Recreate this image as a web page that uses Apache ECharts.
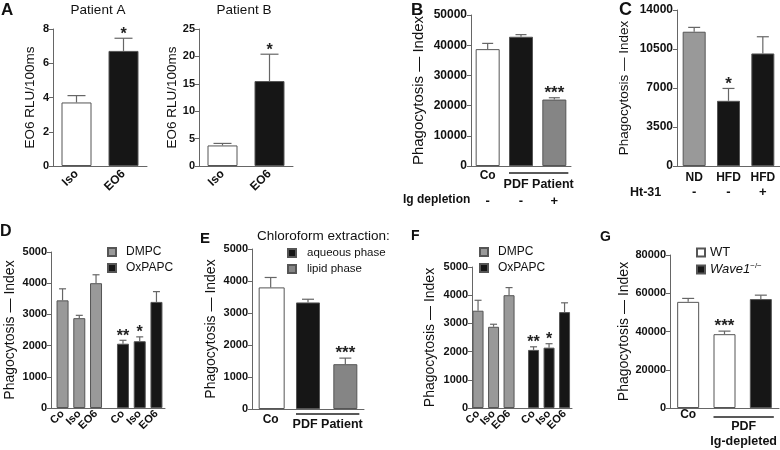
<!DOCTYPE html>
<html><head><meta charset="utf-8">
<script src="https://cdn.jsdelivr.net/npm/echarts@6/dist/echarts.min.js"></script>
<style>html,body{margin:0;padding:0;background:#fff}#c{width:780px;height:450px}</style>
</head><body><div id="c"></div>
<script>
// ================= DATA =================
// Panel A
const aCats = ['Iso', 'EO6'];
const aPatientAVals = [3.71, 6.72];
const aPatientAErr = [0.40, 0.74];
const aPatientASig = ['', '*'];
const aPatientATicks = [0, 2, 4, 6, 8];
const aPatientBVals = [3.75, 15.5];
const aPatientBErr = [0.37, 4.9];
const aPatientBSig = ['', '*'];
const aPatientBTicks = [0, 5, 10, 15, 20, 25];
// Panel B
const bCats = ['Co', '', ''];
const bIgDepletion = ['-', '-', '+'];
const bVals = [38700, 42800, 22000];
const bErr = [1900, 700, 600];
const bSig = ['', '', '***'];
const bTicks = [0, 10000, 20000, 30000, 40000, 50000];
// Panel C
const cCats = ['ND', 'HFD', 'HFD'];
const cHt31 = ['-', '-', '+'];
const cVals = [12050, 5850, 10100];
const cErr = [390, 1110, 1500];
const cSig = ['', '*', ''];
const cTicks = [0, 3500, 7000, 10500, 14000];
// Panels D and F (same data)
const dfCats = ['Co', 'Iso', 'EO6'];
const dfDMPC = [3450, 2880, 4000];
const dfDMPCErr = [370, 90, 270];
const dfOxPAPC = [2060, 2140, 3400];
const dfOxPAPCErr = [110, 140, 330];
const dfOxSig = ['**', '*', ''];
const dfTicks = [0, 1000, 2000, 3000, 4000, 5000];
// Panel E
const eCats = ['Co', '', ''];
const eCo = [3800, null, null];
const eAqueous = [null, 3330, null];
const eLipid = [null, null, 1400];
const eErr = [310, 100, 190];
const eSig = ['', '', '***'];
const eTicks = [0, 1000, 2000, 3000, 4000, 5000];
// Panel G
const gCats = ['Co', '', ''];
const gWT = [55500, 38600, null];
const gKO = [null, null, 56950];
const gErr = [1800, 1600, 2050];
const gSig = ['', '***', ''];
const gTicks = [0, 20000, 40000, 60000, 80000];

// ================= STYLE =================
const FONT = '"Liberation Sans", Arial, Helvetica, sans-serif';
const AX = '#666';
const WHITE = '#ffffff', BLACK = '#161616', GRAY = '#999999', DGRAY = '#858585';
const BORDER = '#555';

const grids = [], xAxes = [], yAxes = [], series = [];

function addGrid(g) { grids.push(g); return grids.length - 1; }
function addY(gi, ticks, name, nameGap, fs, nameFs) {
  yAxes.push({
    type: 'value', gridIndex: gi, min: ticks[0], max: ticks[ticks.length - 1], interval: ticks[1] - ticks[0],
    name: name, nameLocation: 'middle', nameGap: nameGap,
    nameTextStyle: { fontFamily: FONT, fontSize: nameFs, color: '#111' },
    axisLine: { show: true, onZero: false, lineStyle: { color: AX, width: 1 } },
    axisTick: { show: true, length: 4, lineStyle: { color: AX } },
    axisLabel: { formatter: v => String(v), fontFamily: FONT, fontWeight: 'bold', fontSize: fs, color: '#111', margin: 4 },
    splitLine: { show: false }
  });
  return yAxes.length - 1;
}
function addCatX(gi, labels, opts) {
  opts = opts || {};
  xAxes.push({
    type: 'category', gridIndex: gi, position: 'bottom', data: labels.map((_, i) => String(i)),
    offset: opts.offset || 0,
    axisLine: { show: opts.line !== false, onZero: false, lineStyle: { color: AX, width: 1 } },
    axisTick: { show: false },
    axisLabel: { interval: 0, formatter: (v, i) => labels[i], fontFamily: FONT, fontWeight: 'bold',
      fontSize: opts.fs || 12, color: '#111', margin: opts.margin == null ? 4 : opts.margin, rotate: opts.rotate || 0 },
    splitLine: { show: false }
  });
  return xAxes.length - 1;
}
function addValX(gi, min, max, positions, labels, rotate, fs, margin) {
  xAxes.push({
    type: 'value', gridIndex: gi, position: 'bottom', min: min, max: max,
    axisLine: { show: true, onZero: false, lineStyle: { color: AX, width: 1 } },
    axisTick: { show: false },
    axisLabel: { customValues: positions, formatter: (v) => {
        const k = positions.findIndex(p => Math.abs(p - v) < 1e-6); return k >= 0 ? labels[k] : ''; },
      fontFamily: FONT, fontWeight: 'bold', fontSize: fs, color: '#111', margin: margin, rotate: rotate },
    splitLine: { show: false }
  });
  return xAxes.length - 1;
}
function bar(xi, yi, name, data, color, width, colorFn) {
  series.push({
    type: 'bar', name: name, xAxisIndex: xi, yAxisIndex: yi, data: data, barWidth: width, barGap: '-100%',
    itemStyle: { color: colorFn || color, borderColor: BORDER, borderWidth: 1 },
    emphasis: { disabled: true }, animation: false
  });
}
function errBars(xi, yi, xs, vals, errs, sigs, capW, starFs) {
  const data = [];
  vals.forEach((v, i) => { if (v != null) data.push([xs[i], v, errs[i], i]); });
  series.push({
    type: 'custom', xAxisIndex: xi, yAxisIndex: yi, z: 5, silent: true, animation: false,
    encode: { x: 0, y: 1 },
    data: data,
    renderItem: (params, api) => {
      const x = api.value(0), v = api.value(1), e = api.value(2), k = api.value(3);
      const p0 = api.coord([x, v]), p1 = api.coord([x, v + e]);
      const st = { stroke: '#666', lineWidth: 1.2 };
      const ch = [
        { type: 'line', shape: { x1: p0[0], y1: p0[1], x2: p1[0], y2: p1[1] }, style: st },
        { type: 'line', shape: { x1: p1[0] - capW / 2, y1: p1[1], x2: p1[0] + capW / 2, y2: p1[1] }, style: st }
      ];
      const s = sigs[k];
      if (s) ch.push({ type: 'text', x: p1[0], y: p1[1] + 4, style: { text: s, fill: '#222',
        font: 'bold ' + starFs + 'px ' + FONT, align: 'center', verticalAlign: 'bottom' } });
      return { type: 'group', children: ch };
    }
  });
}

// ---------- Panel A ----------
const gA1 = addGrid({ left: 53, top: 29, width: 94, height: 137 });
const xA1 = addCatX(gA1, aCats, { rotate: 45, fs: 12, margin: 6 });
const yA1 = addY(gA1, aPatientATicks, 'EO6 RLU/100ms', 16, 11, 13.5);
bar(xA1, yA1, 'A1', aPatientAVals, null, 30, p => [WHITE, BLACK][p.dataIndex]);
errBars(xA1, yA1, [0, 1], aPatientAVals, aPatientAErr, aPatientASig, 18, 16);

const gA2 = addGrid({ left: 199, top: 29, width: 94, height: 137 });
const xA2 = addCatX(gA2, aCats, { rotate: 45, fs: 12, margin: 6 });
const yA2 = addY(gA2, aPatientBTicks, 'EO6 RLU/100ms', 16, 11, 13.5);
bar(xA2, yA2, 'A2', aPatientBVals, null, 30, p => [WHITE, BLACK][p.dataIndex]);
errBars(xA2, yA2, [0, 1], aPatientBVals, aPatientBErr, aPatientBSig, 18, 16);

// ---------- Panel B ----------
const gB = addGrid({ left: 471, top: 15, width: 100, height: 151 });
const xB = addCatX(gB, bCats, { fs: 12, margin: 4 });
const xB2 = addCatX(gB, bIgDepletion, { fs: 13, margin: 4, offset: 25, line: false });
const yB = addY(gB, bTicks, 'Phagocytosis \u2014 Index', 45, 12, 15);
bar(xB, yB, 'B', bVals, null, 24, p => [WHITE, BLACK, DGRAY][p.dataIndex]);
errBars(xB, yB, [0, 1, 2], bVals, bErr, bSig, 11, 17);

// ---------- Panel C ----------
const gC = addGrid({ left: 677, top: 10, width: 103, height: 156 });
const xC = addCatX(gC, cCats, { fs: 12, margin: 6 });
const xC2 = addCatX(gC, cHt31, { fs: 13, margin: 6, offset: 14, line: false });
const yC = addY(gC, cTicks, 'Phagocytosis \u2014 Index', 46, 12, 13.5);
bar(xC, yC, 'C', cVals, null, 23, p => [GRAY, BLACK, BLACK][p.dataIndex]);
errBars(xC, yC, [0, 1, 2], cVals, cErr, cSig, 12, 17);

// ---------- Panels D & F ----------
function lipidPanel(grid, xmin, xmax, groupOffset, barW, capW, nameGap) {
  const gi = addGrid(grid);
  const posD = dfCats.map((_, i) => i);
  const posO = dfCats.map((_, i) => i + groupOffset);
  const xi = addValX(gi, xmin, xmax, posD.concat(posO), dfCats.concat(dfCats), 45, 11, 4);
  const yi = addY(gi, dfTicks, 'Phagocytosis \u2014 Index', nameGap, 11, 14);
  bar(xi, yi, 'DMPC', dfDMPC.map((v, i) => [posD[i], v]), GRAY, barW);
  bar(xi, yi, 'OxPAPC', dfOxPAPC.map((v, i) => [posO[i], v]), BLACK, barW);
  errBars(xi, yi, posD, dfDMPC, dfDMPCErr, ['', '', ''], capW, 16);
  errBars(xi, yi, posO, dfOxPAPC, dfOxPAPCErr, dfOxSig, capW, 16);
}
lipidPanel({ left: 51, top: 252, width: 114, height: 156 }, -0.69, 6.12, 3.61, 12, 7, 34);
lipidPanel({ left: 472, top: 267, width: 100, height: 141 }, -0.39, 6.06, 3.58, 11, 7, 35);

// ---------- Panel E ----------
const gE = addGrid({ left: 252, top: 249, width: 112, height: 160 });
const xE = addCatX(gE, eCats, { fs: 12, margin: 5 });
const yE = addY(gE, eTicks, 'Phagocytosis \u2014 Index', 34, 11, 14);
bar(xE, yE, 'Co', eCo, WHITE, 26);
bar(xE, yE, 'aqueous phase', eAqueous, BLACK, 24);
bar(xE, yE, 'lipid phase', eLipid, DGRAY, 24);
const eAll = eCo.map((v, i) => v != null ? v : (eAqueous[i] != null ? eAqueous[i] : eLipid[i]));
errBars(xE, yE, [0, 1, 2], eAll, eErr, eSig, 12, 17);

// ---------- Panel G ----------
const gG = addGrid({ left: 670, top: 255, width: 109, height: 153 });
const xG = addCatX(gG, gCats, { fs: 12, margin: 1 });
const yG = addY(gG, gTicks, 'Phagocytosis \u2014 Index', 37, 11, 14);
bar(xG, yG, 'WT', gWT, WHITE, 22);
bar(xG, yG, 'Wave1\u2212/\u2212', gKO, BLACK, 22);
const gAll = gWT.map((v, i) => v != null ? v : gKO[i]);
errBars(xG, yG, [0, 1, 2], gAll, gErr, gSig, 12, 17);

// ================= TEXT =================
function ttl(text, left, top, fs, weight, align) {
  return { text: text, left: left, top: top, padding: 0, textAlign: align || 'left',
    textStyle: { fontFamily: FONT, fontSize: fs, fontWeight: weight || 'normal', color: '#111' } };
}
const titles = [
  ttl('A', 1, 2, 17, 900), ttl('B', 411, 2, 17, 900), ttl('C', 619, 1, 18, 900),
  ttl('D', 0, 224, 16, 900), ttl('E', 200, 231, 15, 900), ttl('F', 411, 229, 14, 900), ttl('G', 600, 230, 14, 900),
  ttl('Patient A', 98, 3, 13.5, 'normal', 'center'),
  ttl('Patient B', 244, 3, 13.5, 'normal', 'center'),
  ttl('Chloroform extraction:', 257, 229, 13.5),
  ttl('Ig depletion', 403, 194, 12, 'bold'),
  ttl('Ht-31', 630, 186, 12.5, 'bold')
];

function legendAt(left, top, names, extra) {
  return Object.assign({ left: left, top: top, orient: 'vertical', data: names, icon: 'rect',
    itemWidth: 8, itemHeight: 8, itemGap: 4, padding: 0, selectedMode: false,
    textStyle: { fontFamily: FONT, fontSize: 12, color: '#111', padding: [0, 0, 0, 5] } }, extra || {});
}
const legends = [
  legendAt(107, 246, ['DMPC', 'OxPAPC']),
  legendAt(479, 246, ['DMPC', 'OxPAPC']),
  legendAt(287, 247, ['aqueous phase', 'lipid phase'], {
    textStyle: { fontFamily: FONT, fontSize: 11.5, color: '#111', padding: [0, 0, 0, 6] } }),
  legendAt(696, 246, ['WT', 'Wave1\u2212/\u2212'], {
    itemGap: 3,
    formatter: n => n === 'WT' ? n : '{i|Wave1}{s|\u2212/\u2212}',
    textStyle: { fontFamily: FONT, fontSize: 13, color: '#111', padding: [0, 0, 0, 0],
      rich: { i: { fontStyle: 'italic', fontSize: 13, fontFamily: FONT },
              s: { fontSize: 8, fontFamily: FONT, padding: [0, 0, 7, 0] } } }
  })
];

const chart = echarts.init(document.getElementById('c'), null, { renderer: 'canvas' });
chart.setOption({
  animation: false, backgroundColor: '#fff',
  title: titles, legend: legends, grid: grids, xAxis: xAxes, yAxis: yAxes, series: series
});

// group brackets computed from the axes
function bracket(xi, yi, barW, lines) {
  const c1 = chart.convertToPixel({ xAxisIndex: xi }, 1);
  const c2 = chart.convertToPixel({ xAxisIndex: xi }, 2);
  const y0 = chart.convertToPixel({ yAxisIndex: yi }, 0);
  const x1 = c1 - barW / 2, x2 = c2 + barW / 2 + 2, mid = (x1 + x2) / 2;
  const out = [{ type: 'line', shape: { x1: x1, y1: y0 + lines.dy, x2: x2, y2: y0 + lines.dy },
    style: { stroke: '#222', lineWidth: 1.3 } }];
  lines.texts.forEach((t, k) => out.push({ type: 'text', x: mid, y: y0 + lines.dy + lines.ty[k],
    style: { text: t, font: 'bold 12.5px ' + FONT, fill: '#111', align: 'center', verticalAlign: 'middle' } }));
  return out;
}
const gfx = [].concat(
  bracket(xB, yB, 24, { dy: 7, texts: ['PDF Patient'], ty: [12] }),
  bracket(xE, yE, 24, { dy: 5, texts: ['PDF Patient'], ty: [11] }),
  bracket(xG, yG, 22, { dy: 9, texts: ['PDF', 'Ig-depleted'], ty: [10, 25] })
);
chart.setOption({ graphic: gfx });
</script></body></html>
